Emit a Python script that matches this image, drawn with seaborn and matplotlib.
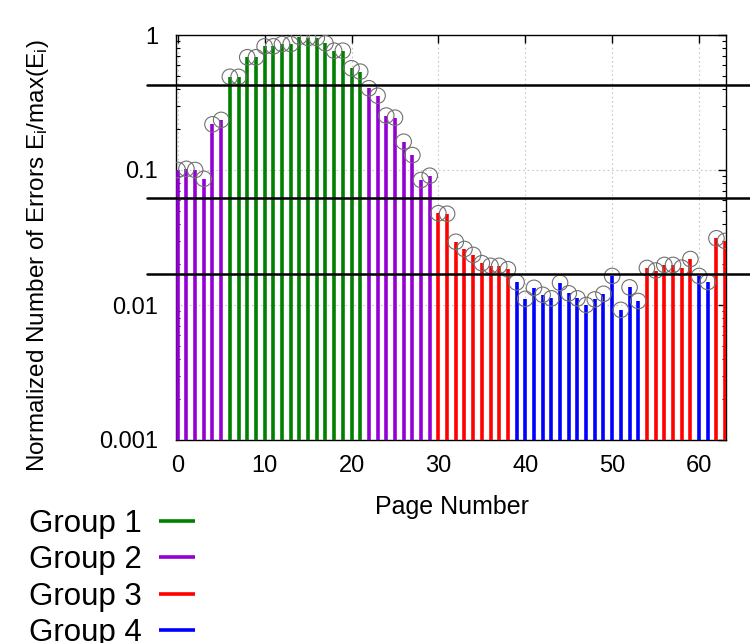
import numpy as np
import pandas as pd
import matplotlib
matplotlib.use("Agg")
import matplotlib.pyplot as plt
import seaborn as sns
from matplotlib.ticker import LogLocator, FixedLocator, NullFormatter

# ---------------- data ----------------
pages = list(range(64))
values = [0.100, 0.102, 0.100, 0.086, 0.218, 0.235, 0.49, 0.49, 0.684, 0.684,
          0.824, 0.824, 0.857, 0.857, 0.97, 0.95, 0.95, 0.868, 0.765, 0.765,
          0.567, 0.535, 0.403, 0.355, 0.253, 0.244, 0.162, 0.129, 0.0843, 0.0907,
          0.0478, 0.0474, 0.0294, 0.026, 0.0235, 0.0204, 0.0195, 0.0195, 0.0184, 0.0147,
          0.0111, 0.0134, 0.0119, 0.0112, 0.0146, 0.0122, 0.0112, 0.0100, 0.0110, 0.0121,
          0.0164, 0.0092, 0.0135, 0.0107, 0.0188, 0.0180, 0.0198, 0.0198, 0.0189, 0.0219,
          0.0164, 0.0148, 0.0312, 0.0298]
groups = [2, 2, 2, 2, 2, 2,
          1, 1, 1, 1, 1, 1, 1, 1, 1, 1, 1, 1, 1, 1, 1, 1,
          2, 2, 2, 2, 2, 2, 2, 2,
          3, 3, 3, 3, 3, 3, 3, 3, 3,
          4, 4, 4, 4, 4, 4, 4, 4, 4, 4, 4, 4, 4, 4, 4,
          3, 3, 3, 3, 3, 3,
          4, 4,
          3, 3]
group_names = ["Group 1", "Group 2", "Group 3", "Group 4"]
group_colors = ["#008000", "#9400D3", "#FF0000", "#0000FF"]
thresholds = [0.426, 0.0617, 0.0169]
x_ticks = [0, 10, 20, 30, 40, 50, 60]
y_ticks = [0.001, 0.01, 0.1, 1]
y_ticklabels = ["0.001", "0.01", "0.1", "1"]

df = pd.DataFrame({"page": pages, "value": values, "group": groups})

# ---------------- style ----------------
sns.set_theme(style="white")
plt.rcParams["font.family"] = ["Liberation Sans", "DejaVu Sans"]
plt.rcParams["mathtext.fontset"] = "custom"
plt.rcParams["mathtext.rm"] = "Liberation Sans"
plt.rcParams["mathtext.it"] = "Liberation Sans:italic"
plt.rcParams["text.color"] = "black"
plt.rcParams["axes.labelcolor"] = "black"
plt.rcParams["xtick.color"] = "black"
plt.rcParams["ytick.color"] = "black"

fig = plt.figure(figsize=(7.5, 6.43), dpi=100)
ax = fig.add_axes([176 / 750, 1 - 440 / 643, 550 / 750, 405 / 643])
ax.set_yscale("log")

ymin = 0.001
for g, name, col in zip([1, 2, 3, 4], group_names, group_colors):
    sub = df[df["group"] == g]
    ax.vlines(sub["page"], ymin, sub["value"], colors=col, linewidth=2.6,
              label=name, zorder=3)

sns.scatterplot(data=df, x="page", y="value", ax=ax, marker="o", s=125,
                facecolor="none", edgecolor="#707070", linewidth=0.8,
                legend=False, zorder=4)

for t in thresholds:
    ax.axhline(t, xmin=-0.053, xmax=1.05, color="black", linewidth=1.8,
               clip_on=False, zorder=5)

ax.set_xlim(-0.2, 63.1)
ax.set_ylim(0.001, 1)

ax.xaxis.set_major_locator(FixedLocator(x_ticks))
ax.set_xticklabels([str(v) for v in x_ticks])
ax.yaxis.set_major_locator(FixedLocator(y_ticks))
ax.set_yticklabels(y_ticklabels)
ax.yaxis.set_minor_locator(LogLocator(base=10, subs=np.arange(2, 10)))
ax.yaxis.set_minor_formatter(NullFormatter())

ax.grid(True, which="major", color="#c8c8c8", linestyle=(0, (1.5, 2.5)), linewidth=0.8)
ax.set_axisbelow(True)

ax.tick_params(axis="both", which="major", direction="in", length=6, width=1,
               top=True, right=True, labelsize=17, colors="black")
ax.tick_params(axis="x", which="major", pad=11)
ax.tick_params(axis="y", which="major", pad=13)
ax.tick_params(axis="y", which="minor", direction="in", length=3, width=0.8,
               left=True, right=True)

for sp in ax.spines.values():
    sp.set_color("black")
    sp.set_linewidth(1.0)

ax.set_xlabel("Page Number", fontsize=18, color="black")
ax.set_ylabel(r"Normalized Number of Errors E$_\mathregular{i}$/max(E$_\mathregular{i}$)",
              fontsize=17.5, color="black")
ax.xaxis.set_label_coords(0.502, -0.135)
ax.yaxis.set_label_coords(-0.228, 0.455)

handles, labels = ax.get_legend_handles_labels()
leg = fig.legend(handles, labels, loc="upper left",
                 bbox_to_anchor=(29 / 750, 1 - 509 / 643),
                 frameon=False, markerfirst=False, fontsize=22.5,
                 handlelength=1.15, handletextpad=0.55, labelspacing=0.2,
                 borderpad=0, borderaxespad=0, labelcolor="black")
for h in leg.legend_handles:
    h.set_linewidth(2.6)

fig.savefig("out.png", dpi=100)
